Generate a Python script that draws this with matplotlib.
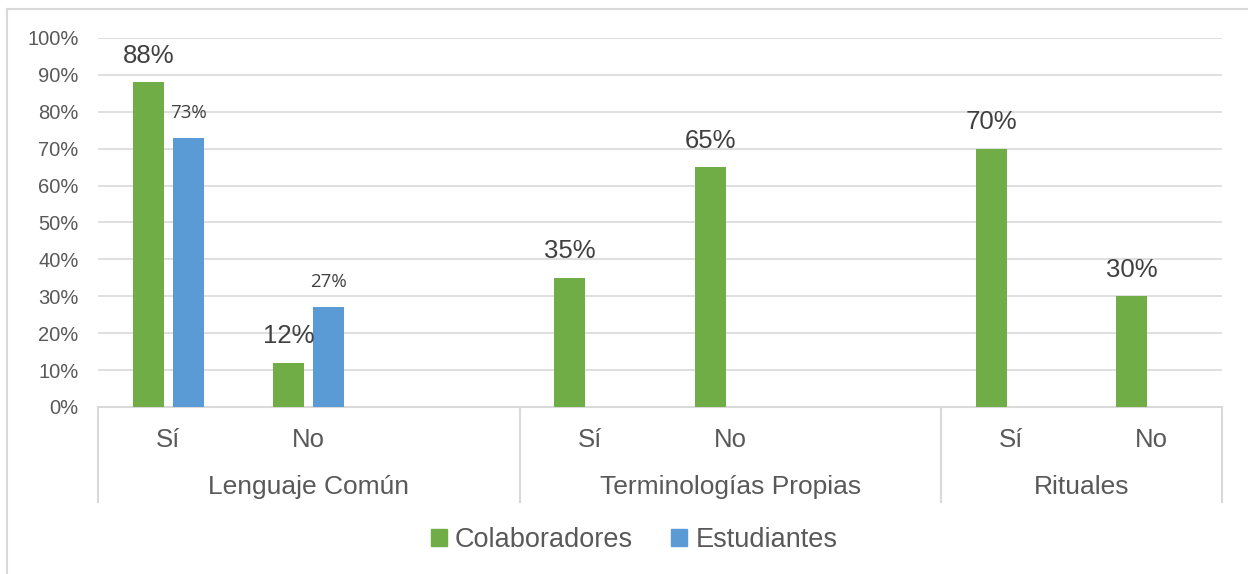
import matplotlib
matplotlib.use("Agg")
import matplotlib.pyplot as plt
import numpy as np
from matplotlib.lines import Line2D
from matplotlib.patches import Patch
from matplotlib.ticker import FuncFormatter

# Data
groups       = ["Lenguaje Común", "Terminologías Propias", "Rituales"]
answers      = ["Sí", "No", "", "Sí", "No", "", "Sí", "No"]
colaboradores = [0.88, 0.12, np.nan, 0.35, 0.65, np.nan, 0.70, 0.30]
estudiantes   = [0.73, 0.27, np.nan, np.nan, np.nan, np.nan, np.nan, np.nan]
group_bounds  = [-0.5, 2.5, 5.5, 7.5]

GREEN = "#70AD47"
BLUE  = "#5B9BD5"
GRID  = "#D9D9D9"
TEXT  = "#595959"
FONT  = "Liberation Sans"

plt.rcParams["font.family"] = [FONT, "DejaVu Sans"]

W, H = 1248, 574
fig = plt.figure(figsize=(W / 100, H / 100), dpi=100)
ax = fig.add_axes([98 / W, (H - 407) / H, (1222 - 98) / W, 369 / H])

x = np.arange(len(answers))
width = 0.22
off = 0.142
ax.bar(x - off, colaboradores, width, color=GREEN, zorder=3)
ax.bar(x + off, estudiantes, width, color=BLUE, zorder=3)

for xi, v in zip(x, colaboradores):
    if not np.isnan(v):
        ax.annotate(f"{v:.0%}", (xi - off, v), xytext=(0, 19), textcoords="offset points",
                    ha="center", va="center", fontsize=18.5, color="#404040")
for xi, v in zip(x, estudiantes):
    if not np.isnan(v):
        ax.annotate(f"{v:.0%}", (xi + off, v), xytext=(0, 18), textcoords="offset points",
                    ha="center", va="center", fontsize=13.5, color="#404040",
                    family=["Open Sans", "DejaVu Sans"])

ax.set_xlim(-0.5, 7.5)
ax.set_ylim(0, 1)
ax.set_yticks(np.arange(0, 1.01, 0.1))
ax.yaxis.set_major_formatter(FuncFormatter(lambda v, _: f"{v:.0%}"))
ax.grid(axis="y", color=GRID, linewidth=1.2, zorder=0)
ax.tick_params(axis="y", length=0, pad=14, labelsize=14.5, labelcolor=TEXT)

for s in ["top", "right", "left"]:
    ax.spines[s].set_visible(False)
ax.spines["bottom"].set_color(GRID)
ax.spines["bottom"].set_linewidth(1.5)

# first level: answers
shown = [i for i, a in enumerate(answers) if a]
ax.set_xticks(shown)
ax.set_xticklabels([answers[i] for i in shown])
ax.tick_params(axis="x", length=0, pad=15, labelsize=18.5, labelcolor=TEXT)

# second level: groups
sec = ax.secondary_xaxis("bottom")
sec.set_xticks(group_bounds)
sec.set_xticklabels([""] * len(group_bounds))
sec.tick_params(axis="x", length=69, width=1.5, color=GRID)
centers = [(a + b) / 2 for a, b in zip(group_bounds[:-1], group_bounds[1:])]
sec.set_xticks(centers, minor=True)
sec.set_xticklabels(groups, minor=True)
sec.tick_params(axis="x", which="minor", length=0, pad=49, labelsize=19, labelcolor=TEXT)
sec.spines["bottom"].set_visible(False)

# legend
handles = [Patch(color=GREEN, label="Colaboradores"), Patch(color=BLUE, label="Estudiantes")]
fig.legend(handles=handles, loc="center", bbox_to_anchor=(634 / W, 1 - 540 / H), ncol=2,
           frameon=False, fontsize=19.5, labelcolor=TEXT, handlelength=0.6, handleheight=0.6,
           handletextpad=0.3, columnspacing=1.4)

# chart border
fig.add_artist(Line2D([7 / W, 1], [1 - 9 / H, 1 - 9 / H], transform=fig.transFigure, color=GRID, linewidth=1.5))
fig.add_artist(Line2D([7 / W, 7 / W], [0, 1 - 9 / H], transform=fig.transFigure, color=GRID, linewidth=1.5))

fig.savefig("out.png", dpi=100)
